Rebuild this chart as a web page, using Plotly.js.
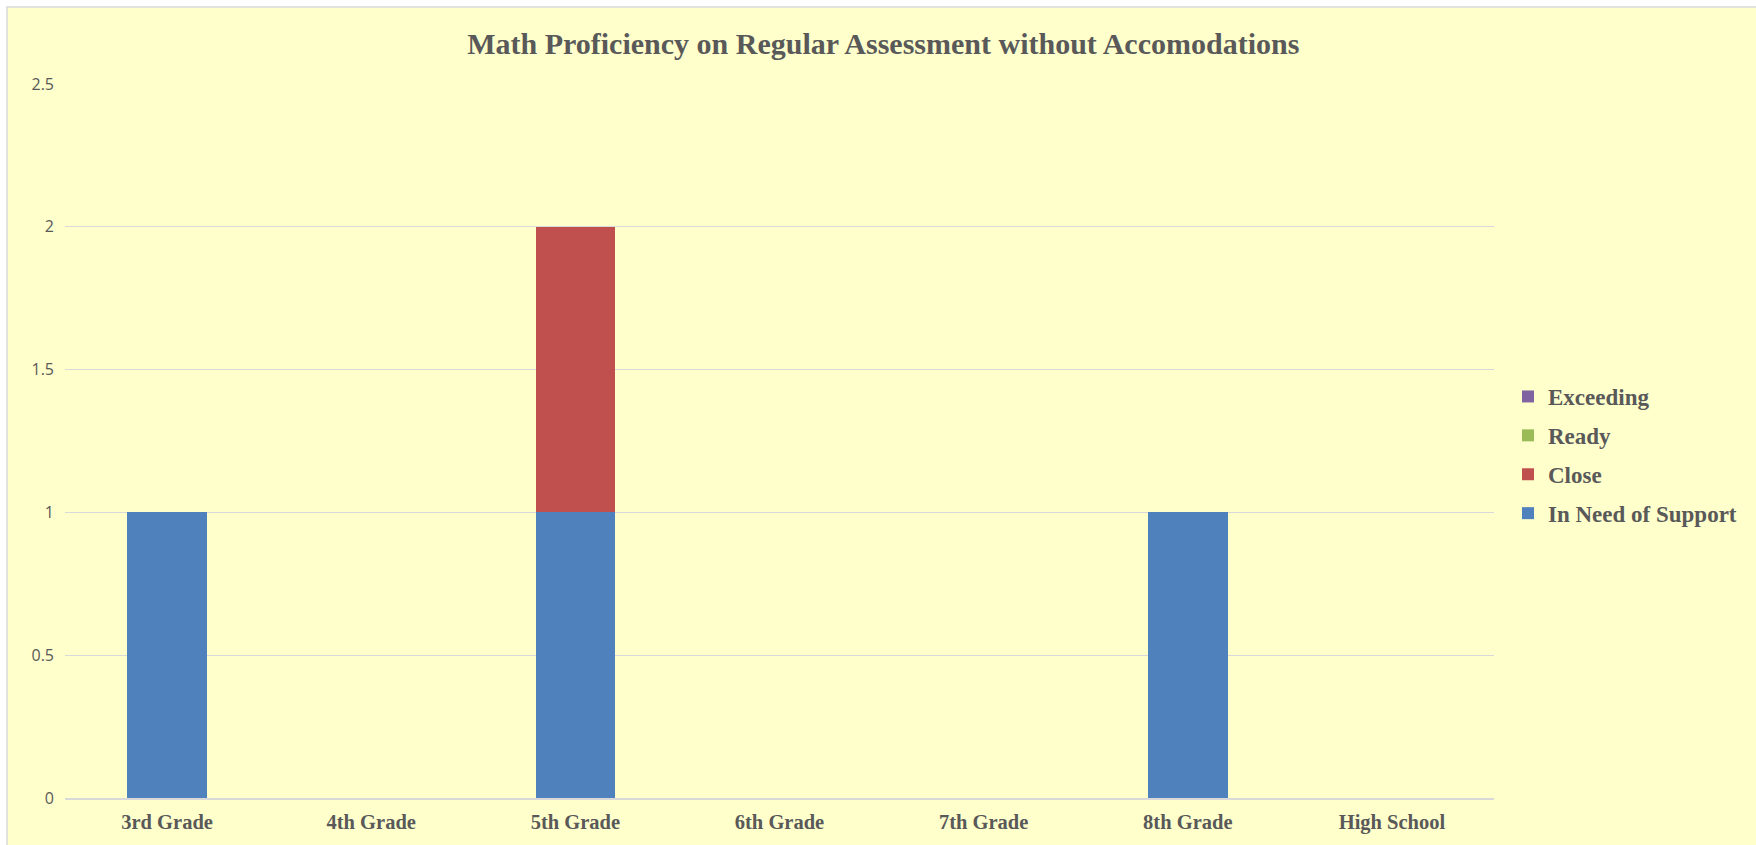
<!DOCTYPE html>
<html>
<head>
<meta charset="utf-8">
<script src="https://cdn.plot.ly/plotly-3.0.1.min.js"></script>
<style>html,body{margin:0;padding:0;background:#fff;}#chart{width:1756px;height:845px;}</style>
</head>
<body>
<div id="chart"></div>
<script>
const categories = ["3rd Grade", "4th Grade", "5th Grade", "6th Grade", "7th Grade", "8th Grade", "High School"];
const inNeedOfSupport = [1, 0, 1, 0, 0, 1, 0];
const close = [0, 0, 1, 0, 0, 0, 0];
const ready = [0, 0, 0, 0, 0, 0, 0];
const exceeding = [0, 0, 0, 0, 0, 0, 0];
const yTicks = [0, 0.5, 1, 1.5, 2, 2.5];
const yTickLabels = ["0", "0.5", "1", "1.5", "2", "2.5"];

const series = [
  {name: "In Need of Support", values: inNeedOfSupport, color: "#4F81BD", rank: 4},
  {name: "Close", values: close, color: "#C0504D", rank: 3},
  {name: "Ready", values: ready, color: "#9BBB59", rank: 2},
  {name: "Exceeding", values: exceeding, color: "#8064A2", rank: 1}
];

const traces = series.map(s => ({
  type: "bar",
  name: "<b>" + s.name + "</b>",
  x: categories,
  y: s.values,
  marker: {color: s.color},
  legendgroup: s.name,
  legendrank: s.rank,
  hoverinfo: "x+y+name"
}));

const W = 1756, H = 845;
const m = {l: 65, r: 262, t: 84, b: 47};
const pw = W - m.l - m.r, ph = H - m.t - m.b;
const px = v => (v - m.l) / pw;
const py = v => (H - m.b - v) / ph;

const layout = {
  width: W, height: H,
  margin: m,
  paper_bgcolor: "#FFFFFF",
  plot_bgcolor: "rgba(0,0,0,0)",
  barmode: "stack",
  bargap: 0.61,
  showlegend: true,
  title: {
    text: "<b>Math Proficiency on Regular Assessment without Accomodations</b>",
    font: {family: "Liberation Serif, Times New Roman, serif", size: 30, color: "#595959"},
    xref: "container", x: 0.503, xanchor: "center",
    yref: "container", y: 1 - 43 / H, yanchor: "middle"
  },
  xaxis: {
    type: "category",
    showgrid: false,
    showline: true, linecolor: "#D9D9D9", linewidth: 1.5,
    ticks: "",
    tickfont: {family: "Liberation Serif, Times New Roman, serif", size: 20.5, color: "#595959"},
    tickprefix: "<b>", ticksuffix: "</b>",
    ticklabelstandoff: 5,
    zeroline: false
  },
  yaxis: {
    range: [0, 2.5],
    tickvals: yTicks, ticktext: yTickLabels,
    showgrid: true, gridcolor: "#D9D9D9", gridwidth: 1.2,
    zeroline: false, showline: false, ticks: "",
    tickfont: {family: "Open Sans, Liberation Sans, sans-serif", size: 16, color: "#595959"},
    ticklabelstandoff: 10
  },
  legend: {
    x: px(1508), xanchor: "left",
    y: py(455), yanchor: "middle",
    traceorder: "grouped",
    tracegroupgap: 6,
    bgcolor: "rgba(0,0,0,0)",
    font: {family: "Liberation Serif, Times New Roman, serif", size: 23, color: "#595959"}
  },
  shapes: [{
    type: "rect", xref: "paper", yref: "paper", layer: "below",
    x0: px(7), x1: px(W + 20), y0: py(H + 20), y1: py(7),
    fillcolor: "#FFFFCC",
    line: {color: "#D9D9D9", width: 1.5}
  }]
};

Plotly.newPlot("chart", traces, layout, {displayModeBar: false, responsive: false});
</script>
</body>
</html>
